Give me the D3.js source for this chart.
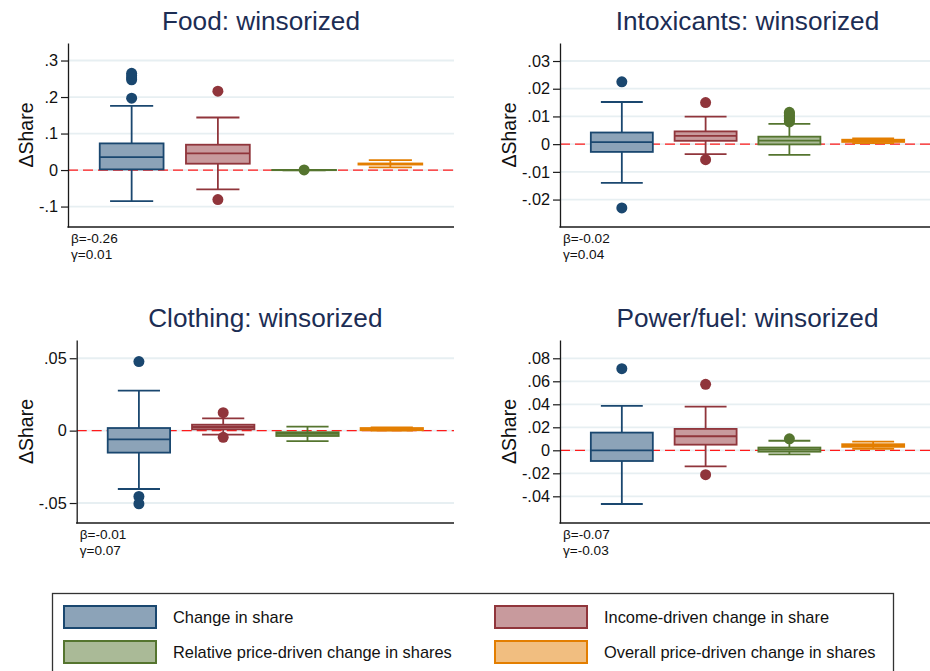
<!DOCTYPE html>
<html>
<head>
<meta charset="utf-8">
<script src="https://cdn.jsdelivr.net/npm/d3@7"></script>
<style>
  html, body { margin: 0; padding: 0; background: #fff; }
  svg { display: block; font-family: "Liberation Sans", Arial, sans-serif; }
</style>
</head>
<body>
<svg id="chart" width="930" height="671"></svg>
<script>
// ---- data -------------------------------------------------------------
const seriesNames = [
  "Change in share",
  "Income-driven change in share",
  "Relative price-driven change in shares",
  "Overall price-driven change in shares"
];
const panelTitles = ["Food: winsorized", "Intoxicants: winsorized", "Clothing: winsorized", "Power/fuel: winsorized"];
const betaLabels  = ["-0.26", "-0.02", "-0.01", "-0.07"];
const gammaLabels = ["0.01", "0.04", "0.07", "-0.03"];

// box statistics, one row per panel, one entry per series
const whiskerLow = [
  [-0.085, -0.053, -0.0005, 0.0072],
  [-0.0140, -0.0036, -0.0039, 0.0004],
  [-0.0403, -0.0028, -0.0072, 0.0001],
  [-0.0467, -0.0139, -0.0035, 0.0012]
];
const quartile1 = [
  [0.0018, 0.0174, -0.0003, 0.0150],
  [-0.0028, 0.0012, -0.0001, 0.0008],
  [-0.0152, 0.0009, -0.0037, 0.0003],
  [-0.0093, 0.0049, -0.0012, 0.0030]
];
const medians = [
  [0.0356, 0.0457, 0.0000, 0.0165],
  [0.0007, 0.0030, 0.0013, 0.0012],
  [-0.0060, 0.0025, -0.0023, 0.0011],
  [0.0000, 0.0122, 0.0007, 0.0045]
];
const quartile3 = [
  [0.0730, 0.0694, 0.0003, 0.0180],
  [0.0042, 0.0046, 0.0027, 0.0016],
  [0.0018, 0.0041, -0.0011, 0.0018],
  [0.0154, 0.0186, 0.0024, 0.0053]
];
const whiskerHigh = [
  [0.176, 0.144, 0.0005, 0.0274],
  [0.0152, 0.0099, 0.0073, 0.0021],
  [0.0277, 0.0085, 0.0027, 0.0022],
  [0.0386, 0.0380, 0.0083, 0.0075]
];
const outliers = [
  [[0.197, 0.247, 0.252, 0.258, 0.265], [0.216, -0.081], [0.0002], []],
  [[0.0225, -0.0230], [0.0150, -0.0056], [0.0080, 0.0086, 0.0092, 0.0098, 0.0104, 0.0110, 0.0115], []],
  [[0.0477, -0.0455, -0.0505], [0.0124, -0.0046], [], []],
  [[0.0710], [0.0574, -0.0212], [0.0100], []]
];

// y axis ticks and extents per panel
const yTicks = [
  [-0.1, 0, 0.1, 0.2, 0.3],
  [-0.02, -0.01, 0, 0.01, 0.02, 0.03],
  [-0.05, 0, 0.05],
  [-0.04, -0.02, 0, 0.02, 0.04, 0.06, 0.08]
];
const yExtents = [
  [-0.156, 0.348],
  [-0.0299, 0.0365],
  [-0.0638, 0.0626],
  [-0.0632, 0.0959]
];

// ---- styling / layout ---------------------------------------------------
const lineColors = ["#1a476f", "#90353b", "#55752f", "#e37e00"];
const fillColors = ["#8ca3b8", "#c89a9d", "#aaba97", "#f1be80"];
const plotFrames = [
  { left: 68,   right: 454, top: 43,  bottom: 227 },
  { left: 560,  right: 935, top: 43,  bottom: 227 },
  { left: 76.7, right: 454, top: 340, bottom: 523 },
  { left: 560,  right: 935, top: 340, bottom: 523 }
];

const svg = d3.select("#chart");
const fmt = v => v === 0 ? "0" : String(+v.toFixed(4)).replace(/^(-?)0\./, "$1.");

panelTitles.forEach((title, p) => {
  const f = plotFrames[p];
  const g = svg.append("g");

  const x = d3.scalePoint().domain(seriesNames).range([f.left, f.right]).padding(0.738);
  const y = d3.scaleLinear().domain(yExtents[p]).range([f.bottom, f.top]);
  const step = x.step();
  const boxW = step * 0.74;
  const capW = step * 0.5;

  // grid lines
  g.append("g").selectAll("line").data(yTicks[p]).join("line")
    .attr("x1", f.left).attr("x2", f.right)
    .attr("y1", d => y(d)).attr("y2", d => y(d))
    .attr("stroke", "#e7eff2").attr("stroke-width", 1.8);

  // zero reference line
  g.append("line")
    .attr("x1", f.left).attr("x2", f.right)
    .attr("y1", y(0)).attr("y2", y(0))
    .attr("stroke", "#ff1a1a").attr("stroke-width", 1.3)
    .attr("stroke-dasharray", "10,5");

  // boxes
  seriesNames.forEach((s, i) => {
    const cx = x(s);
    const col = lineColors[i];
    const bg = g.append("g");
    // whiskers
    bg.append("line").attr("x1", cx).attr("x2", cx)
      .attr("y1", y(quartile3[p][i])).attr("y2", y(whiskerHigh[p][i]))
      .attr("stroke", col).attr("stroke-width", 1.8);
    bg.append("line").attr("x1", cx).attr("x2", cx)
      .attr("y1", y(quartile1[p][i])).attr("y2", y(whiskerLow[p][i]))
      .attr("stroke", col).attr("stroke-width", 1.8);
    [whiskerHigh[p][i], whiskerLow[p][i]].forEach(v => {
      bg.append("line").attr("x1", cx - capW / 2).attr("x2", cx + capW / 2)
        .attr("y1", y(v)).attr("y2", y(v))
        .attr("stroke", col).attr("stroke-width", 1.8);
    });
    // box
    bg.append("rect")
      .attr("x", cx - boxW / 2).attr("width", boxW)
      .attr("y", y(quartile3[p][i]))
      .attr("height", Math.max(0, y(quartile1[p][i]) - y(quartile3[p][i])))
      .attr("fill", fillColors[i]).attr("stroke", col).attr("stroke-width", 1.8);
    bg.append("line").attr("x1", cx - boxW / 2).attr("x2", cx + boxW / 2)
      .attr("y1", y(medians[p][i])).attr("y2", y(medians[p][i]))
      .attr("stroke", col).attr("stroke-width", 1.8);
    // outside values
    bg.selectAll("circle").data(outliers[p][i]).join("circle")
      .attr("cx", cx).attr("cy", d => y(d)).attr("r", 5.5)
      .attr("fill", col);
  });

  // axes
  const ax = g.append("g").attr("transform", `translate(${f.left},0)`)
    .call(d3.axisLeft(y).tickValues(yTicks[p]).tickFormat(fmt).tickSize(7).tickSizeOuter(0).tickPadding(3));
  ax.select(".domain").attr("stroke", "#1a1a1a").attr("stroke-width", 1.3);
  ax.selectAll(".tick line").attr("stroke", "#1a1a1a").attr("stroke-width", 1.2);
  ax.selectAll(".tick text").attr("font-size", 16.3).attr("fill", "#111")
    .attr("font-family", "'Liberation Sans', Arial, sans-serif");
  g.append("line").attr("x1", f.left - 0.6).attr("x2", f.right)
    .attr("y1", f.bottom).attr("y2", f.bottom)
    .attr("stroke", "#1a1a1a").attr("stroke-width", 1.3);

  const bb = ax.node().getBBox();
  g.append("text")
    .attr("transform", `translate(${f.left + bb.x - 6},${(f.top + f.bottom) / 2}) rotate(-90)`)
    .attr("text-anchor", "middle").attr("font-size", 19.5).attr("fill", "#111")
    .text("ΔShare");

  // title
  g.append("text")
    .attr("x", (f.left + f.right) / 2).attr("y", f.top - 13)
    .attr("text-anchor", "middle").attr("font-size", 26.2).attr("fill", "#1c2d54")
    .text(title);

  // coefficient notes
  g.append("text").attr("x", f.left + 3).attr("y", f.bottom + 16)
    .attr("font-size", 13.6).attr("fill", "#111").text("β=" + betaLabels[p]);
  g.append("text").attr("x", f.left + 3).attr("y", f.bottom + 32)
    .attr("font-size", 13.6).attr("fill", "#111").text("γ=" + gammaLabels[p]);
});

// ---- legend -----------------------------------------------------------
const legend = svg.append("g");
legend.append("rect").attr("x", 52.5).attr("y", 593.5).attr("width", 841).attr("height", 110)
  .attr("fill", "#fff").attr("stroke", "#333").attr("stroke-width", 1.3);
const legendCols = [63, 494];
const legendRows = [605, 640];
seriesNames.forEach((s, i) => {
  const cx = legendCols[i % 2], ry = legendRows[Math.floor(i / 2)];
  legend.append("rect").attr("x", cx + 1).attr("y", ry + 1).attr("width", 92).attr("height", 22)
    .attr("fill", fillColors[i]).attr("stroke", lineColors[i]).attr("stroke-width", 2);
  legend.append("text").attr("x", cx + 110).attr("y", ry + 18)
    .attr("font-size", 16.4).attr("fill", "#111").text(s);
});
</script>
</body>
</html>
